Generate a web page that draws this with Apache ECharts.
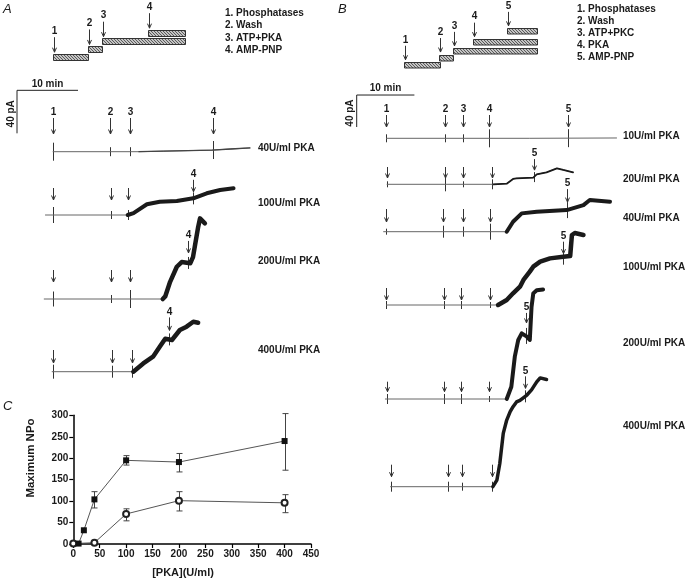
<!DOCTYPE html>
<html><head><meta charset="utf-8">
<script src="https://cdn.jsdelivr.net/npm/echarts@6/dist/echarts.min.js"></script>
<style>html,body{margin:0;padding:0;background:#fff}#c{width:693px;height:584px}</style>
</head><body><div id="c"></div>
<script>
// ================= DATA =================
const scaleBarMin = 10;   // min
const scaleBarPA = 40;    // pA

// Panel A : protocol schematic (start, end, stacking level) in schematic units 0-100
const protoA = [[0, 26.5, 0], [26.7, 37.6, 1], [37, 100, 2], [72, 100, 3.1]];
const legendA = ['1. Phosphatases', '2. Wash', '3. ATP+PKA', '4. AMP-PNP'];

// Panel A traces : [time (min), current above baseline (pA)]
const aLabels = ['40U/ml PKA', '100U/ml PKA', '200U/ml PKA', '400U/ml PKA'];
const aEvents40 = [5.85, 15.25, 18.5, 32.2];
const aTrace40 = [[5.85, 0], [20, 0], [24, 0.5], [28, 1], [32, 1.5], [35, 2.5], [38.2, 3.5]];
const aEvents100 = [5.85, 15.4, 18.15, 28.9];
const aTrace100 = [[4.6, 0], [18.15, 0], [19.1, 1.8], [21.3, 10], [23.4, 12.4], [26.2, 13], [28.9, 15.5], [31.1, 20.2], [33.3, 23.3], [35.5, 24.8]];
const aEvents200 = [5.85, 15.4, 18.5, 28.0];
const aTrace200 = [[4.4, 0], [23.9, 0], [24.3, 2.4], [25.1, 16], [26.2, 30], [27, 34.4], [28.4, 33.2], [28.85, 39], [29.7, 67], [30, 75], [30.8, 70.4]];
const aEvents400 = [5.9, 15.6, 18.85, 24.9];
const aTrace400 = [[5.7, 0], [19.07, 0], [20.7, 7.7], [22.3, 14], [23.4, 23.3], [24.3, 30.7], [25.4, 29.5], [26.7, 38.8], [27.8, 41.9], [28.9, 46.5], [29.7, 45.6]];

// Panel B : protocol schematic
const protoB = [[0, 27, 0], [26.3, 36.8, 1], [36.8, 100, 1.8], [51.9, 100, 3], [77.4, 100, 4.4]];
const legendB = ['1. Phosphatases', '2. Wash', '3. ATP+PKC', '4. PKA', '5. AMP-PNP'];

// Panel B traces
const bLabels = ['10U/ml PKA', '20U/ml PKA', '40U/ml PKA', '100U/ml PKA', '200U/ml PKA', '400U/ml PKA'];
const bEvents10 = [5.08, 15.3, 18.5, 22.9, 36.7];
const bTrace10 = [[5.08, 0], [30, 0], [45.1, 0.4]];
const bEvents20 = [5.2, 15.3, 18.4, 23.4, 30.7];
const bTrace20 = [[5.2, 0], [23.7, 0], [26.0, 0.8], [27.1, 6.7], [27.7, 7.5], [30.6, 8.3], [31.2, 12.5], [32.9, 15], [34.7, 20], [35.8, 17.9], [37.5, 15]];
const bEvents40 = [5.08, 15.0, 18.5, 23.1, 36.4];
const bTrace40 = [[4.6, 0], [26.0, 0], [27.1, 12.5], [28.6, 22.9], [31.2, 25], [36.4, 27], [39.3, 33.3], [40.4, 39.6], [43.9, 37.5]];
const bEvents100 = [5.08, 15.1, 18.1, 23.1, 35.8];
const bTrace100 = [[5.08, 0], [24.5, 0], [26.0, 6.25], [27.1, 14.6], [28.3, 22.9], [28.9, 31.3], [30.0, 41.7], [30.6, 47.9], [31.8, 54.2], [33.5, 58.3], [35.8, 60.4], [37.0, 61.3], [37.3, 87.5], [37.8, 90], [39.3, 87.5]];
const bEvents200 = [5.2, 15.1, 18.1, 23.0, 29.3];
const bTrace200 = [[4.9, 0], [26.0, 0], [26.8, 15.4], [27.4, 52.9], [28.0, 73.8], [28.6, 82.1], [29.5, 77.9], [30.0, 73.8], [30.3, 115], [30.6, 132], [31.2, 136], [32.3, 137]];
const bEvents400 = [5.9, 15.8, 18.3, 23.4, 29.2];
const bTrace400 = [[5.8, 0], [23.6, 0], [24.3, 8.3], [24.8, 29], [25.4, 66.7], [26.0, 83.3], [26.6, 93.8], [27.1, 100], [27.7, 106], [28.3, 108], [29.5, 114.6], [30.3, 121], [31.2, 131], [31.8, 136], [32.9, 134]];

// Panel C : maximum NPo vs [PKA]
const cFilledX = [10, 20, 40, 100, 200, 400];
const cFilledY = [1, 32, 104, 195, 191, 240];
const cFilledLo = [null, null, 84, 184, 168, 172];
const cFilledHi = [null, null, 122, 206, 211, 304];
const cOpenX = [0, 40, 100, 200, 400];
const cOpenY = [1, 3, 70, 101, 96];
const cOpenLo = [null, null, 54, 77, 73];
const cOpenHi = [null, null, 82, 122, 115];
const cXTicks = [0, 450, 50];
const cYTicks = [0, 300, 50];

// ================= LAYOUT =================
const FONT = '"Liberation Sans", Arial, Helvetica, sans-serif';
const BFONT10 = 'bold 10px ' + FONT;
const INK = '#1a1a1a';

const layoutA = {left: 17, pxPerMin: 6.1, xMax: 40, k: 1.075, yMin: -20, yMax: 95, labelX: 258, scaleTop: 57.1,
  rows: [
    {base: 151.7, labelY: 148, row: 17.7, len: 16, gap: 8, lastAbove: false, allLabels: true, w: 1.3, ticks: [9, 4.5, 4.5, 9]},
    {base: 215, labelY: 203, row: 15, len: 12, gap: 6.5, lastAbove: true, w: 4, ticks: [8, 4, 5, 6]},
    {base: 299, labelY: 261, row: 17, len: 12, gap: 10, lastAbove: true, w: 4.5, ticks: [7.5, 4, 9, 6]},
    {base: 371.7, labelY: 350, row: 8.7, len: 13, gap: 9, lastAbove: true, w: 4.5, ticks: [7, 6, 6, 6]}
  ]};
const layoutB = {left: 356.7, pxPerMin: 5.77, xMax: 50, k: 0.8, yMin: -20, yMax: 150, labelX: 623, scaleTop: 54.1,
  rows: [
    {base: 138.3, labelY: 136, row: 11.3, len: 12, gap: 8, lastAbove: false, allLabels: true, w: 1, ticks: [4, 4, 4, 9, 9]},
    {base: 184.3, labelY: 179.3, row: 6.3, len: 11, gap: 7, lastAbove: true, w: 1.8, ticks: [3, 7, 3, 5, 5]},
    {base: 231.7, labelY: 218.3, row: 9.7, len: 13, gap: 8, lastAbove: true, w: 4, ticks: [3, 6, 5, 8, 8]},
    {base: 305, labelY: 267.7, row: 5, len: 12, gap: 3, lastAbove: true, w: 4.5, ticks: [4, 4, 4, 3, 8]},
    {base: 399, labelY: 343.3, row: 7.3, len: 10, gap: 13, lastAbove: true, w: 4, ticks: [5, 5, 5, 3, 8]},
    {base: 486.7, labelY: 426.7, row: 10, len: 12, gap: 8, lastAbove: true, w: 3.5, ticks: [5, 5, 4, 5, 6]}
  ]};

// hatched fill for the protocol bars
const hatch = document.createElement('canvas');
hatch.width = 3; hatch.height = 3;
(function () {
  const g = hatch.getContext('2d');
  g.fillStyle = '#c4c4c4'; g.fillRect(0, 0, 3, 3);
  g.fillStyle = '#5a5a5a'; g.fillRect(0, 0, 1, 1); g.fillRect(1, 1, 1, 1); g.fillRect(2, 2, 1, 1);
})();

// ================= BUILD =================
const grids = [], xAxes = [], yAxes = [], series = [], graphics = [];
function addGrid(g, x, y) {
  grids.push(g); const i = grids.length - 1;
  xAxes.push(Object.assign({gridIndex: i}, x));
  yAxes.push(Object.assign({gridIndex: i}, y));
  return i;
}
function valueAt(tr, t) {
  if (t <= tr[0][0]) return tr[0][1];
  for (let i = 1; i < tr.length; i++) {
    if (t <= tr[i][0]) { const [t0, v0] = tr[i - 1], [t1, v1] = tr[i]; return v0 + (v1 - v0) * (t - t0) / (t1 - t0); }
  }
  return tr[tr.length - 1][1];
}
function arrowShape(x, yTip, len, label, labelGap) {
  const ch = [
    {type: 'line', shape: {x1: x, y1: yTip - len, x2: x, y2: yTip}, style: {stroke: '#333', lineWidth: 1}},
    {type: 'polyline', shape: {points: [[x - 2, yTip - 4.5], [x, yTip], [x + 2, yTip - 4.5]]}, style: {stroke: '#333', lineWidth: 1, fill: null}}
  ];
  if (label) ch.push({type: 'text', x: x, y: yTip - len - labelGap, style: {text: label, font: BFONT10, fill: INK, align: 'center', verticalAlign: 'middle'}});
  return ch;
}

function buildPanel(L, traces, events, labels) {
  L.rows.forEach((r, i) => {
    const gi = addGrid({left: L.left, top: r.base - L.yMax * L.k, width: L.xMax * L.pxPerMin, height: (L.yMax - L.yMin) * L.k},
      {type: 'value', min: 0, max: L.xMax, show: false},
      {type: 'value', min: L.yMin, max: L.yMax, show: false});
    const tr = traces[i], ev = events[i];
    series.push({type: 'line', xAxisIndex: gi, yAxisIndex: gi, data: tr, showSymbol: false, silent: true,
      lineStyle: {width: 1, color: '#666'}});
    let k0 = -1;
    for (let j = 0; j < tr.length; j++) { if (tr[j][1] > 0.3) { k0 = Math.max(0, j - 1); break; } }
    if (r.w > 1 && k0 >= 0) {
      series.push({type: 'line', xAxisIndex: gi, yAxisIndex: gi, data: tr.slice(k0), showSymbol: false, silent: true,
        lineStyle: {width: r.w, color: r.w < 1.6 ? '#444' : INK, join: 'round', cap: 'round'}});
    }
    // event ticks through the trace
    const tickData = ev.map(t => [t, valueAt(tr, t)]);
    series.push({type: 'custom', xAxisIndex: gi, yAxisIndex: gi, silent: true, data: tickData,
      renderItem: (p, api) => {
        const c = api.coord([api.value(0), api.value(1)]); const h = r.ticks[p.dataIndex];
        const x = Math.round(c[0]) + 0.5;
        return {type: 'line', shape: {x1: x, y1: c[1] - h, x2: x, y2: c[1] + h}, style: {stroke: '#333', lineWidth: 1}};
      }});
    // arrows
    const arrowData = ev.map((t, j) => {
      let tipPx = r.row;
      if (j === ev.length - 1 && r.lastAbove) tipPx = Math.max(r.row, valueAt(tr, t) * L.k + r.gap);
      return [t, tipPx / L.k];
    });
    const labs = ev.map((t, j) => (r.allLabels || j === ev.length - 1) ? String(j + 1) : '');
    series.push({type: 'custom', xAxisIndex: gi, yAxisIndex: gi, silent: true, data: arrowData,
      renderItem: (p, api) => {
        const c = api.coord([api.value(0), api.value(1)]);
        return {type: 'group', children: arrowShape(Math.round(c[0]) + 0.5, c[1], r.len, labs[p.dataIndex], 5.5)};
      }});
    graphics.push({type: 'text', x: L.labelX, y: r.labelY, style: {text: labels[i], font: BFONT10, fill: INK, verticalAlign: 'middle'}});
    if (i === 0) {
      const top = L.scaleTop;
      series.push({type: 'custom', xAxisIndex: gi, yAxisIndex: gi, silent: true, data: [[0, top]],
        renderItem: (p, api) => {
          const a = api.coord([0, top]), b = api.coord([scaleBarMin, top]), c = api.coord([0, top - scaleBarPA]);
          return {type: 'group', children: [
            {type: 'polyline', shape: {points: [b, a, c]}, style: {stroke: '#222', lineWidth: 1, fill: null}},
            {type: 'text', x: (a[0] + b[0]) / 2, y: a[1] - 6.5, style: {text: scaleBarMin + ' min', font: BFONT10, fill: INK, align: 'center', verticalAlign: 'middle'}},
            {type: 'text', x: a[0] - 6, y: (a[1] + c[1]) / 2 + 2, rotation: Math.PI / 2, style: {text: scaleBarPA + ' pA', font: BFONT10, fill: INK, align: 'center', verticalAlign: 'middle'}}
          ]};
        }});
    }
  });
}

function buildProto(grid, bars, yMax, barH, len, gap) {
  const gi = addGrid(grid, {type: 'value', min: 0, max: 100, show: false}, {type: 'value', min: 0, max: yMax, show: false});
  series.push({type: 'custom', xAxisIndex: gi, yAxisIndex: gi, silent: true, data: bars,
    renderItem: (p, api) => {
      const s = api.coord([api.value(0), api.value(2)]), e = api.coord([api.value(1), api.value(2)]);
      const topY = s[1] - barH / 2;
      const ch = [{type: 'rect', shape: {x: Math.round(s[0]) + 0.5, y: Math.round(topY) + 0.5, width: Math.round(e[0] - s[0]), height: barH},
        style: {fill: {image: hatch, repeat: 'repeat'}, stroke: '#333', lineWidth: 1}}];
      return {type: 'group', children: ch.concat(arrowShape(Math.round(s[0]) + 1.5, topY - gap, len, String(p.dataIndex + 1), 6))};
    }});
}

buildProto({left: 53, top: 25.7, width: 132, height: 31}, protoA, 4, 6, 15, 1.5);
buildProto({left: 404, top: 26.5, width: 133, height: 38.5}, protoB, 5, 5.5, 14, 2.5);
legendA.forEach((t, i) => graphics.push({type: 'text', x: 225, y: 13.3 + i * 12.3, style: {text: t, font: BFONT10, fill: INK, verticalAlign: 'middle'}}));
legendB.forEach((t, i) => graphics.push({type: 'text', x: 577, y: 9 + i * 12.1, style: {text: t, font: BFONT10, fill: INK, verticalAlign: 'middle'}}));

buildPanel(layoutA, [aTrace40, aTrace100, aTrace200, aTrace400], [aEvents40, aEvents100, aEvents200, aEvents400], aLabels);
buildPanel(layoutB, [bTrace10, bTrace20, bTrace40, bTrace100, bTrace200, bTrace400], [bEvents10, bEvents20, bEvents40, bEvents100, bEvents200, bEvents400], bLabels);

// Panel C
const axisCommon = {
  type: 'value', splitLine: {show: false},
  axisLine: {show: true, onZero: false, lineStyle: {color: '#000', width: 1.5}},
  axisTick: {show: true, length: 4, lineStyle: {color: '#000', width: 1.2}},
  axisLabel: {fontFamily: FONT, fontWeight: 'bold', fontSize: 10, color: INK, margin: 5}
};
const gC = addGrid({left: 73.3, top: 415.3, width: 237.7, height: 128.7},
  Object.assign({}, axisCommon, {min: cXTicks[0], max: cXTicks[1], interval: cXTicks[2]}),
  Object.assign({}, axisCommon, {min: cYTicks[0], max: cYTicks[1], interval: cYTicks[2]}));
function errSeries(xs, lo, hi) {
  const d = [];
  xs.forEach((x, i) => { if (lo[i] != null) d.push([x, lo[i], hi[i]]); });
  return {type: 'custom', xAxisIndex: gC, yAxisIndex: gC, silent: true, z: 1, data: d,
    renderItem: (p, api) => {
      const a = api.coord([api.value(0), api.value(1)]), b = api.coord([api.value(0), api.value(2)]);
      const x = Math.round(a[0]) + 0.5;
      return {type: 'group', children: [
        {type: 'line', shape: {x1: x, y1: a[1], x2: x, y2: b[1]}, style: {stroke: '#444', lineWidth: 1}},
        {type: 'line', shape: {x1: x - 3, y1: a[1], x2: x + 3, y2: a[1]}, style: {stroke: '#444', lineWidth: 1}},
        {type: 'line', shape: {x1: x - 3, y1: b[1], x2: x + 3, y2: b[1]}, style: {stroke: '#444', lineWidth: 1}}
      ]};
    }};
}
series.push(errSeries(cFilledX, cFilledLo, cFilledHi));
series.push(errSeries(cOpenX, cOpenLo, cOpenHi));
series.push({type: 'line', xAxisIndex: gC, yAxisIndex: gC, z: 3, data: cOpenX.map((x, i) => [x, cOpenY[i]]),
  symbol: 'emptyCircle', symbolSize: 6, itemStyle: {color: '#222', borderWidth: 1}, lineStyle: {color: '#555', width: 1}});
series.push({type: 'line', xAxisIndex: gC, yAxisIndex: gC, z: 4, data: cFilledX.map((x, i) => [x, cFilledY[i]]),
  symbol: 'rect', symbolSize: 6, itemStyle: {color: '#111'}, lineStyle: {color: '#555', width: 1}});

graphics.push({type: 'text', x: 31, y: 458, rotation: Math.PI / 2, style: {text: 'Maximum NPo', font: 'bold 11.5px ' + FONT, fill: INK, align: 'center', verticalAlign: 'middle'}});
graphics.push({type: 'text', x: 183, y: 572.5, style: {text: '[PKA](U/ml)', font: 'bold 11px ' + FONT, fill: INK, align: 'center', verticalAlign: 'middle'}});
graphics.push({type: 'text', x: 3, y: 9, style: {text: 'A', font: 'italic 13px ' + FONT, fill: INK, verticalAlign: 'middle'}});
graphics.push({type: 'text', x: 338, y: 9, style: {text: 'B', font: 'italic 13px ' + FONT, fill: INK, verticalAlign: 'middle'}});
graphics.push({type: 'text', x: 3, y: 406.5, style: {text: 'C', font: 'italic 13px ' + FONT, fill: INK, verticalAlign: 'middle'}});

const chart = echarts.init(document.getElementById('c'), null, {renderer: 'canvas'});
chart.setOption({
  animation: false,
  backgroundColor: '#fff',
  grid: grids, xAxis: xAxes, yAxis: yAxes, series: series, graphic: graphics
});
</script></body></html>
